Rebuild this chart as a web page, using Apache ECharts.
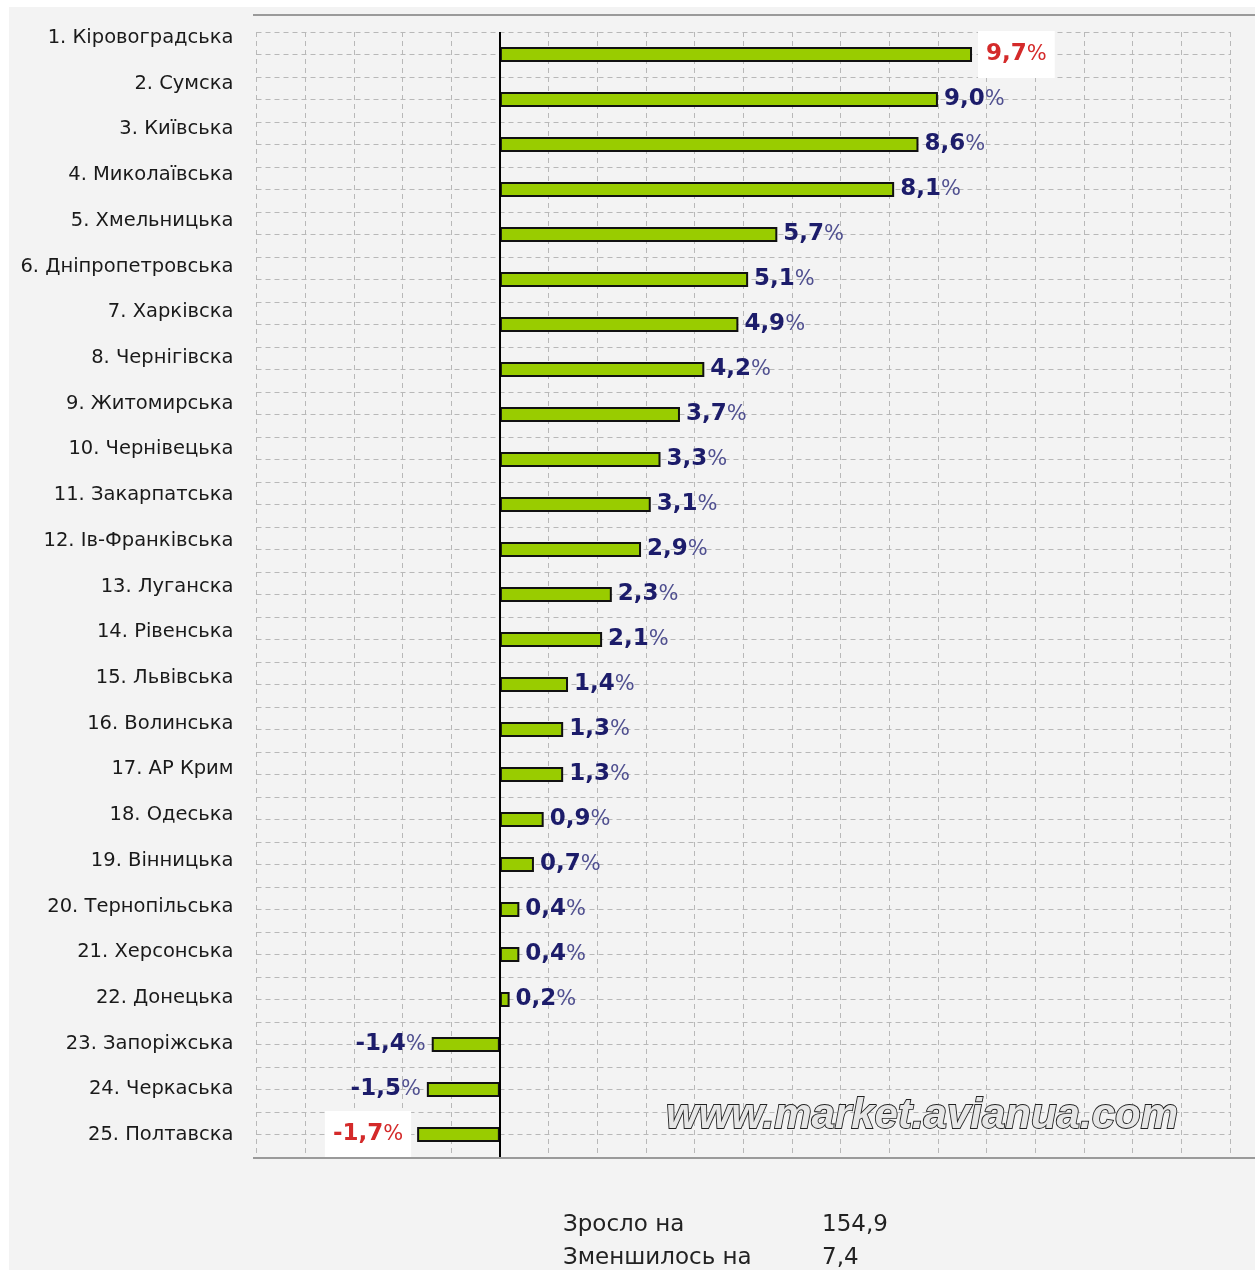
<!DOCTYPE html>
<html>
<head>
<meta charset="utf-8">
<script src="https://cdn.jsdelivr.net/npm/echarts@6/dist/echarts.min.js"></script>
<style>
html,body{margin:0;padding:0;background:#ffffff;}
#chart{width:1255px;height:1270px;}
</style>
</head>
<body>
<div id="chart"></div>
<script>
const categories = [
  '1. Кіровоградська','2. Сумска','3. Київська','4. Миколаївська','5. Хмельницька',
  '6. Дніпропетровська','7. Харківска','8. Чернігівска','9. Житомирська','10. Чернівецька',
  '11. Закарпатська','12. Ів-Франківська','13. Луганска','14. Рівенська','15. Львівська',
  '16. Волинська','17. АР Крим','18. Одеська','19. Вінницька','20. Тернопільська',
  '21. Херсонська','22. Донецька','23. Запоріжська','24. Черкаська','25. Полтавска'
];
const values = [9.7,9.0,8.6,8.1,5.7,5.1,4.9,4.2,3.7,3.3,3.1,2.9,2.3,2.1,1.4,1.3,1.3,0.9,0.7,0.4,0.4,0.2,-1.4,-1.5,-1.7];
const highlighted = ['1. Кіровоградська','25. Полтавска'];
const xTicks = {min:-5, max:15, interval:1};
const summaryLabels = ['Зросло на','Зменшилось на'];
const summaryValues = ['154,9','7,4'];
const watermark = 'www.market.avianua.com';

const navy = '#1c1c6a';
const red = '#d42a2a';
function fmt(v){ return v.toFixed(1).replace('.', ','); }

const seriesData = values.map((v,i)=>{
  const hi = highlighted.includes(categories[i]);
  const c = hi ? red : navy;
  return {
    value: v,
    label: {
      show: true,
      position: v >= 0 ? 'right' : 'left',
      distance: 6,
      formatter: '{n|' + fmt(v) + '}{p|%}',
      backgroundColor: hi ? '#ffffff' : 'transparent',
      padding: hi ? [12,8,12,8] : 0,
      rich: {
        n: {fontFamily:'DejaVu Sans', fontWeight:'bold', fontSize:23, color:c},
        p: {fontFamily:'DejaVu Sans', fontWeight:'normal', fontSize:21, color:hi ? red : '#505090'}
      }
    }
  };
});

const gridLine = {color:'#b8b8b8', type:[5,4], width:1};

const chart = echarts.init(document.getElementById('chart'), null, {renderer:'canvas'});
chart.setOption({
  backgroundColor: 'transparent',
  animation: false,
  grid: [
    {left: 256.5, right: 25, top: 32, bottom: 113, containLabel: false},
    {left: 256.5, right: 25, top: 15, bottom: 112, containLabel: false}
  ],
  xAxis: [{
    type: 'value', gridIndex: 0, min: xTicks.min, max: xTicks.max, interval: xTicks.interval,
    axisLabel: {show:false}, axisTick:{show:false}, axisLine:{show:false},
    splitLine: {show:true, lineStyle: gridLine}
  },{
    type: 'value', gridIndex: 1, min: 0, max: 1, show: false
  }],
  yAxis: [{
    type: 'category', gridIndex: 0, data: categories, inverse: true,
    axisLine:{show:false}, axisTick:{show:false}, splitLine:{show:false},
    axisLabel: {show:false}
  },{
    type: 'value', gridIndex: 0, min: 0, max: 50, interval: 1, position:'right',
    axisLabel:{show:false}, axisTick:{show:false}, axisLine:{show:false},
    splitLine: {show:true, lineStyle: gridLine}
  },{
    type: 'category', gridIndex: 1, data: categories, inverse: true,
    axisLine:{show:false}, axisTick:{show:false}, splitLine:{show:false},
    axisLabel: {margin: 23, fontFamily:'DejaVu Sans', fontSize:19.5, color:'#1a1a1a'}
  }],
  series: [{
    type: 'bar', xAxisIndex: 0, yAxisIndex: 0, data: seriesData, barWidth: 15,
    itemStyle: {color:'#99cc00', borderColor:'#111111', borderWidth:2},
    markLine: {
      silent: true, symbol: ['none','none'],
      label:{show:false},
      lineStyle:{color:'#000000', type:'solid', width:2},
      data: [{xAxis: 0}]
    },
    z: 3
  }],
  graphic: [
    {type:'rect', shape:{x:9, y:7, width:1246, height:1263}, style:{fill:'#f3f3f3'}, z:-10, silent:true},
    {type:'line', shape:{x1:253, y1:15, x2:1255, y2:15}, style:{stroke:'#9a9a9a', lineWidth:2}, z:5},
    {type:'line', shape:{x1:253, y1:1158, x2:1255, y2:1158}, style:{stroke:'#9a9a9a', lineWidth:2}, z:5},
    {type:'text', x:1178, y:1116, style:{text:watermark, align:'right', verticalAlign:'middle',
      font:'italic bold 42px "Liberation Sans", Arial', fill:'#e6e6e6', stroke:'#222222', lineWidth:1.8}, z:6},
    {type:'text', x:563, y:1225, style:{text:summaryLabels[0], verticalAlign:'middle', font:'23px "DejaVu Sans", Tahoma', fill:'#222222'}},
    {type:'text', x:563, y:1258, style:{text:summaryLabels[1], verticalAlign:'middle', font:'23px "DejaVu Sans", Tahoma', fill:'#222222'}},
    {type:'text', x:822, y:1225, style:{text:summaryValues[0], verticalAlign:'middle', font:'23px "DejaVu Sans", Tahoma', fill:'#222222'}},
    {type:'text', x:822, y:1258, style:{text:summaryValues[1], verticalAlign:'middle', font:'23px "DejaVu Sans", Tahoma', fill:'#222222'}}
  ]
});
</script>
</body>
</html>
